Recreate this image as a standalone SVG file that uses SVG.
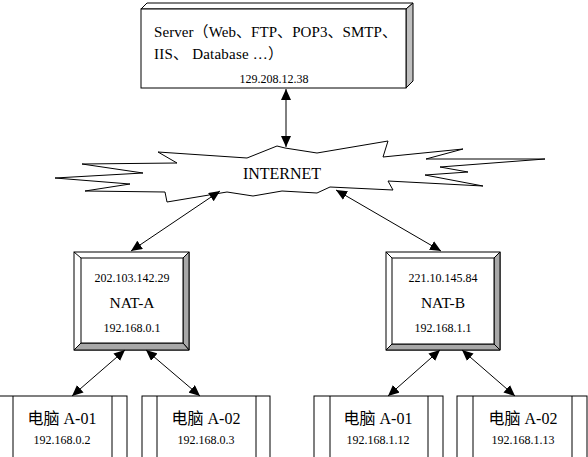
<svg xmlns="http://www.w3.org/2000/svg" width="588" height="457" viewBox="0 0 588 457">
<defs>
<marker id="ah" markerUnits="userSpaceOnUse" markerWidth="11" markerHeight="10" refX="11" refY="5" orient="auto-start-reverse" viewBox="0 0 11 10">
<path d="M0,0 L11,5 L0,10 z" fill="#000"/>
</marker>
</defs>
<style>
.ln{fill:none;stroke:#000;stroke-width:1}
.bx{fill:#fff;stroke:#000;stroke-width:1}
.gr{fill:#a8a8a8;stroke:#000;stroke-width:1}
.t{font-family:"Liberation Serif","Noto Sans CJK SC",serif;fill:#000}
.c{text-anchor:middle}
.s12{font-size:12px}
.cn{font-family:"Liberation Serif","Noto Sans CJK SC",serif;font-size:16px;text-anchor:middle;fill:#000}
.conn{fill:none;stroke:#000;stroke-width:1;marker-start:url(#ah);marker-end:url(#ah)}
</style>
<rect width="588" height="457" fill="#fff"/>

<g id="server">
<polygon class="bx" points="141,9 147,3 413,3 406,9"/>
<polygon points="406,9 413,3 413,81 406,88" fill="#c0c0c0" stroke="#000"/>
<rect class="bx" x="141" y="9" width="265" height="79"/>
<text class="t" x="154" y="37" font-size="15" textLength="243" lengthAdjust="spacing">Server（Web、FTP、POP3、SMTP、</text>
<text class="t" x="154" y="59" font-size="15" textLength="129" lengthAdjust="spacing">IIS、 Database …）</text>
<text class="t c s12" x="274" y="83">129.208.12.38</text>
</g>

<g id="internet">
<polygon class="bx" points="158,152 247,158 277,146 285,148 317,153 388,141 383,157 463,149 426,159 545,159 440,167 468,172 425,175 483,186 388,181 393,190 330,187 317,193 282,191 253,196 227,192 167,202 165,192 85,191 130,184 55,178 143,173 82,164 177,163"/>
<text class="t c" x="282" y="179" font-size="16">INTERNET</text>
</g>

<g id="nat-a">
<rect class="bx" x="74" y="252" width="115" height="98"/>
<polygon class="gr" points="189,252 189,350 183,343 183,258"/>
<polygon class="gr" points="74,350 189,350 183,343 81,343"/>
<line class="ln" x1="74" y1="252" x2="81" y2="258"/>
<line class="ln" x1="189" y1="252" x2="183" y2="258"/>
<line class="ln" x1="74" y1="350" x2="81" y2="343"/>
<rect class="bx" x="81" y="258" width="102" height="85"/>
<text class="t c s12" x="132" y="282">202.103.142.29</text>
<text class="t c" x="132" y="308" font-size="15.5">NAT-A</text>
<text class="t c s12" x="132" y="332">192.168.0.1</text>
</g>

<g id="nat-b">
<rect class="bx" x="386" y="252" width="114" height="98"/>
<polygon class="gr" points="500,252 500,350 494,344 494,258"/>
<polygon class="gr" points="386,350 500,350 494,344 392,344"/>
<line class="ln" x1="386" y1="252" x2="392" y2="258"/>
<line class="ln" x1="500" y1="252" x2="494" y2="258"/>
<line class="ln" x1="386" y1="350" x2="392" y2="344"/>
<rect class="bx" x="392" y="258" width="102" height="86"/>
<text class="t c s12" x="443" y="282">221.10.145.84</text>
<text class="t c" x="443" y="308" font-size="15.5">NAT-B</text>
<text class="t c s12" x="443" y="332">192.168.1.1</text>
</g>

<g id="pc-a01">
<rect class="bx" x="-2" y="396" width="129" height="80"/>
<line class="ln" x1="13" y1="396" x2="13" y2="476"/>
<line class="ln" x1="112" y1="396" x2="112" y2="476"/>
<text class="cn" x="62" y="424">电脑 A-01</text>
<text class="t c s12" x="62" y="444">192.168.0.2</text>
</g>

<g id="pc-a02">
<rect class="bx" x="142" y="396" width="128" height="80"/>
<line class="ln" x1="157" y1="396" x2="157" y2="476"/>
<line class="ln" x1="256" y1="396" x2="256" y2="476"/>
<text class="cn" x="206" y="424">电脑 A-02</text>
<text class="t c s12" x="206" y="444">192.168.0.3</text>
</g>

<g id="pc-b01">
<rect class="bx" x="314" y="396" width="129" height="80"/>
<line class="ln" x1="330" y1="396" x2="330" y2="476"/>
<line class="ln" x1="428" y1="396" x2="428" y2="476"/>
<text class="cn" x="378" y="424">电脑 A-01</text>
<text class="t c s12" x="378" y="444">192.168.1.12</text>
</g>

<g id="pc-b02">
<rect class="bx" x="457" y="396" width="130" height="80"/>
<line class="ln" x1="473" y1="396" x2="473" y2="476"/>
<line class="ln" x1="572" y1="396" x2="572" y2="476"/>
<text class="cn" x="523" y="424">电脑 A-02</text>
<text class="t c s12" x="523" y="444">192.168.1.13</text>
</g>

<g id="connectors">
<line class="conn" x1="286" y1="89" x2="286" y2="147"/>
<line class="conn" x1="131" y1="251" x2="220" y2="191"/>
<line class="conn" x1="441" y1="251" x2="336" y2="190"/>
<line class="conn" x1="125" y1="350" x2="72" y2="396"/>
<line class="conn" x1="146" y1="350" x2="200" y2="396"/>
<line class="conn" x1="440" y1="350" x2="388" y2="396"/>
<line class="conn" x1="462" y1="350" x2="515" y2="396"/>
</g>
</svg>
